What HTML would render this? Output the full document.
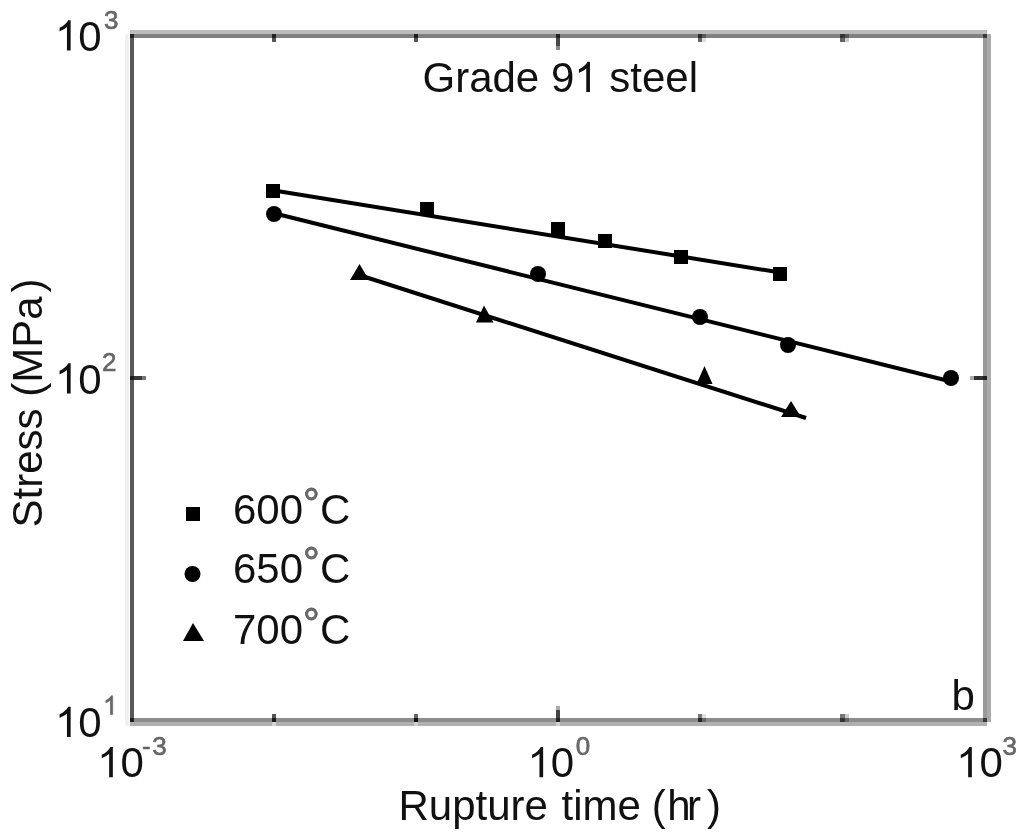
<!DOCTYPE html>
<html>
<head>
<meta charset="utf-8">
<style>
html,body{margin:0;padding:0;background:#fff;}
body{width:1024px;height:840px;overflow:hidden;}
svg{display:block;filter:grayscale(1);}
text{font-family:"Liberation Sans",sans-serif;fill:#111;}
use{fill:#111;}
.sup{font-size:26px;fill:#666;stroke:#666;stroke-width:0.6px;}
.supone{fill:#666;stroke:#666;stroke-width:50px;}
.deg{fill:#666;stroke:#666;stroke-width:0.8px;}
.h1{fill:none;stroke:none;}
</style>
</head>
<body>
<svg width="1024" height="840" viewBox="0 0 1024 840">
<defs><path id="one" d="M763,0 L583,0 L583,1147 Q518,1085 412.5,1023 Q307,961 223,930 L223,1104 Q374,1175 487,1276 Q600,1377 647,1472 L763,1472 Z"/></defs>
<rect x="0" y="0" width="1024" height="840" fill="#fff"/>
<!-- frame -->
<g shape-rendering="crispEdges">
  <!-- top border -->
  <rect x="130" y="30" width="857" height="4" fill="#bcbcbc"/>
  <rect x="130" y="34" width="857" height="4" fill="#808080"/>
  <!-- bottom border -->
  <rect x="130" y="718" width="857" height="4" fill="#8c8c8c"/>
  <rect x="130" y="722" width="857" height="4" fill="#b0b0b0"/>
  <!-- left border -->
  <rect x="125" y="34" width="4" height="692" fill="#f0f0f0"/>
  <rect x="130" y="34" width="4" height="688" fill="#585858"/>
  <!-- right border -->
  <rect x="983" y="34" width="4" height="688" fill="#9a9a9a"/>
  <rect x="987" y="34" width="4" height="688" fill="#ababab"/>
  <!-- corners -->
  <rect x="130" y="34" width="4" height="4" fill="#222"/>
  <rect x="983" y="34" width="4" height="4" fill="#3a3a3a"/>
  <rect x="130" y="718" width="4" height="4" fill="#1e1e1e"/>
  <rect x="983" y="718" width="4" height="4" fill="#3a3a3a"/>
  <!-- top ticks -->
  <rect x="272" y="34" width="4" height="4" fill="#222"/><rect x="272" y="38" width="4" height="4" fill="#555"/>
  <rect x="414" y="34" width="4" height="4" fill="#1c1c1c"/><rect x="414" y="38" width="4" height="4" fill="#555"/>
  <rect x="556" y="34" width="4" height="4" fill="#222"/><rect x="556" y="38" width="4" height="8" fill="#4a4a4a"/><rect x="556" y="46" width="4" height="4" fill="#8a8a8a"/>
  <rect x="698" y="34" width="4" height="4" fill="#2a2a2a"/><rect x="698" y="38" width="4" height="4" fill="#666"/>
  <rect x="702" y="34" width="4" height="4" fill="#5a5a5a"/><rect x="702" y="38" width="4" height="4" fill="#e0e0e0"/>
  <rect x="840" y="34" width="4.5" height="4" fill="#333"/><rect x="840" y="38" width="4.5" height="4" fill="#666"/>
  <rect x="844.5" y="34" width="4.5" height="4" fill="#585858"/><rect x="844.5" y="38" width="4.5" height="4" fill="#ccc"/>
  <!-- bottom ticks -->
  <rect x="272" y="718" width="4" height="4" fill="#1c1c1c"/><rect x="272" y="714" width="4" height="4" fill="#555"/><rect x="272" y="722" width="4" height="4" fill="#d4d4d4"/>
  <rect x="414" y="718" width="4" height="4" fill="#111"/><rect x="414" y="714" width="4" height="4" fill="#666"/><rect x="414" y="722" width="4" height="4" fill="#d0d0d0"/>
  <rect x="556" y="718" width="4" height="4" fill="#222"/><rect x="556" y="710" width="4" height="8" fill="#444"/><rect x="556" y="706" width="4" height="4" fill="#aaa"/><rect x="556" y="722" width="4" height="4" fill="#d0d0d0"/>
  <rect x="698" y="718" width="4" height="4" fill="#262626"/><rect x="698" y="714" width="4" height="4" fill="#777"/>
  <rect x="702" y="718" width="4" height="4" fill="#666"/><rect x="702" y="714" width="4" height="4" fill="#e0e0e0"/>
  <rect x="840" y="718" width="4.5" height="4" fill="#333"/><rect x="840" y="714" width="4.5" height="4" fill="#777"/>
  <rect x="844.5" y="718" width="4.5" height="4" fill="#666"/><rect x="844.5" y="714" width="4.5" height="4" fill="#ccc"/>
  <!-- left tick -->
  <rect x="130" y="376" width="4" height="4" fill="#1e1e1e"/>
  <rect x="134" y="376" width="8" height="4" fill="#3a3a3a"/>
  <rect x="142" y="376" width="4" height="4" fill="#777"/>
  <!-- right tick -->
  <rect x="983" y="376" width="4" height="4" fill="#222"/>
  <rect x="974" y="376" width="9" height="4" fill="#333"/>
  <rect x="970" y="376" width="4" height="4" fill="#aaa"/>
</g>

<!-- data lines -->
<g stroke="#000" stroke-width="4" fill="none">
  <line x1="274" y1="190.5" x2="780" y2="272.5"/>
  <line x1="274" y1="213.3" x2="951" y2="381.5"/>
  <line x1="359" y1="275" x2="806" y2="418"/>
</g>

<!-- markers: squares 600C -->
<g fill="#000" shape-rendering="crispEdges">
  <rect x="265.5" y="184" width="14" height="14"/>
  <rect x="419.5" y="202" width="14" height="14"/>
  <rect x="551" y="221.5" width="14" height="14"/>
  <rect x="597.5" y="233.5" width="14" height="14"/>
  <rect x="674" y="250" width="14" height="14"/>
  <rect x="773" y="267" width="14" height="14"/>
</g>
<!-- circles 650C -->
<g fill="#000">
  <circle cx="274" cy="214" r="8"/>
  <circle cx="538" cy="274" r="8"/>
  <circle cx="700" cy="317" r="8"/>
  <circle cx="788" cy="345" r="8"/>
  <circle cx="951" cy="378" r="8"/>
</g>
<!-- triangles 700C -->
<g fill="#000">
  <polygon points="359.5,264 369,280 350,280"/>
  <polygon points="484,305.5 493.5,322.5 476,322.5"/>
  <polygon points="704.5,366 712.5,384 696.5,384"/>
  <polygon points="791,401 801,417 781,417"/>
</g>

<!-- title -->
<text x="422.5" y="92" font-size="42">Grade 9<tspan class="h1">1</tspan> steel</text><use href="#one" transform="translate(574.3,92) scale(0.0205078,-0.0205078)"/>

<!-- y labels -->
<use href="#one" transform="translate(55,50.5) scale(0.0205078,-0.0205078)"/><text x="55" y="50.5" font-size="42"><tspan class="h1">1</tspan>0</text><text class="sup" x="104" y="28.5">3</text>
<use href="#one" transform="translate(55,393.5) scale(0.0205078,-0.0205078)"/><text x="55" y="393.5" font-size="42"><tspan class="h1">1</tspan>0</text><text class="sup" x="102" y="370.5">2</text>
<use href="#one" transform="translate(55,737) scale(0.0205078,-0.0205078)"/><text x="55" y="737" font-size="42"><tspan class="h1">1</tspan>0</text><text class="sup" x="103" y="714.5"><tspan class="h1">1</tspan></text><use href="#one" class="supone" transform="translate(103,714.5) scale(0.012695,-0.012695)"/>

<!-- x labels -->
<use href="#one" transform="translate(97.2,777.3) scale(0.0205078,-0.0205078)"/><text x="97.2" y="777.3" font-size="42"><tspan class="h1">1</tspan>0</text><text class="sup" x="142" y="754.6">-<tspan dx="1.5">3</tspan></text>
<use href="#one" transform="translate(527.5,777.3) scale(0.0205078,-0.0205078)"/><text x="527.5" y="777.3" font-size="42"><tspan class="h1">1</tspan>0</text><text class="sup" x="575.7" y="754.6">0</text>
<use href="#one" transform="translate(956.2,777.3) scale(0.0205078,-0.0205078)"/><text x="956.2" y="777.3" font-size="42"><tspan class="h1">1</tspan>0</text><text class="sup" x="1002.5" y="754.6">3</text>

<!-- axis titles -->
<text x="398.5" y="820" font-size="42">Rupture <tspan dx="2">time</tspan> <tspan dx="-1">(</tspan><tspan dx="1.5">h</tspan><tspan dx="-3.5">r</tspan><tspan dx="6">)</tspan></text>
<text transform="translate(42,527.5) rotate(-90)" font-size="42">Stress (MPa<tspan dx="4">)</tspan></text>

<!-- legend -->
<rect x="186" y="507" width="14" height="14" fill="#000" shape-rendering="crispEdges"/>
<circle cx="192.5" cy="574" r="8" fill="#000"/>
<polygon points="193,623 204,641 183,641" fill="#000"/>
<text x="233" y="524" font-size="42">600<tspan class="deg" dy="-6">°</tspan><tspan dy="6">C</tspan></text>
<text x="233" y="582.5" font-size="42">650<tspan class="deg" dy="-6">°</tspan><tspan dy="6">C</tspan></text>
<text x="233" y="644" font-size="42">700<tspan class="deg" dy="-6">°</tspan><tspan dy="6">C</tspan></text>

<!-- panel label -->
<text x="951.5" y="709.5" font-size="42">b</text>
</svg>
</body>
</html>
